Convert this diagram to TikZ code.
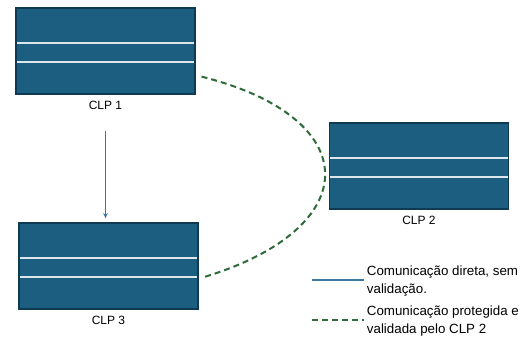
\documentclass[tikz,border=0pt]{standalone}
\usepackage{fontspec}
\setmainfont{Liberation Sans}
\usepackage{tikz}
\usetikzlibrary{arrows.meta,positioning}
\definecolor{clpBlue}{HTML}{1B5E80}
\definecolor{clpBorder}{HTML}{0F3B52}
\definecolor{clpLine}{HTML}{DCE6EB}
\definecolor{linkBlue}{HTML}{3A78A2}
\definecolor{linkGreen}{HTML}{2E6B3A}

\tikzset{
  clp/.style={draw=clpBorder, line width=1.1pt, fill=clpBlue,
    minimum width=134.25pt, minimum height=64.5pt, inner sep=0pt,
    path picture={
      \draw[clpLine, line width=1pt] ([yshift=-26.25pt]path picture bounding box.north west) -- ([yshift=-26.25pt]path picture bounding box.north east);
      \draw[clpLine, line width=1pt] ([yshift=-40.5pt]path picture bounding box.north west) -- ([yshift=-40.5pt]path picture bounding box.north east);
    }},
  clplabel/.style={font=\fontsize{9}{10}\selectfont},
  legendtxt/.style={font=\fontsize{10}{13.5}\selectfont, align=left, inner sep=2pt},
  direta/.style={linkBlue, line width=1pt},
  protegida/.style={linkGreen, line width=1.5pt, dash pattern=on 4.5pt off 3pt}
}

\begin{document}
\begin{tikzpicture}[x=0.75pt,y=-0.75pt]

\useasboundingbox (0,0) rectangle (526,343);

% CLP boxes
\node[clp] (clp1) at (105.5,51) {};
\node[clp] (clp2) at (419,166) {};
\node[clp] (clp3) at (108.5,266) {};

% Box labels
\node[clplabel, below=1.5pt of clp1] (lbl1) {CLP 1};
\node[clplabel, below=1.5pt of clp2] (lbl2) {CLP 2};
\node[clplabel, below=1.5pt of clp3] (lbl3) {CLP 3};

% Direct link CLP 1 -> CLP 3
\draw[direta, -{Stealth[length=4pt,width=3.5pt]}, shorten <=12pt, shorten >=3pt]
  (lbl1.south) -- (lbl1.south |- clp3.north);

% Protected link via CLP 2
\draw[protegida, shorten <=4.5pt, shorten >=3.75pt]
  (clp1.-15) .. controls (366,118) and (366,228) .. (clp3.-8);

% Legend
\node[legendtxt, anchor=west] (txtdireta) at (364,281) {Comunicação direta, sem\\validação.};
\node[legendtxt, anchor=west] (txtprotegida) at (364,321) {Comunicação protegida e\\validada pelo CLP 2};
\coordinate (legdireta) at (312,280);
\coordinate (legprotegida) at (312,320);
\draw[direta] (legdireta) -- (legdireta -| txtdireta.west);
\draw[protegida] (legprotegida) -- (legprotegida -| txtprotegida.west);
\end{tikzpicture}
\end{document}
